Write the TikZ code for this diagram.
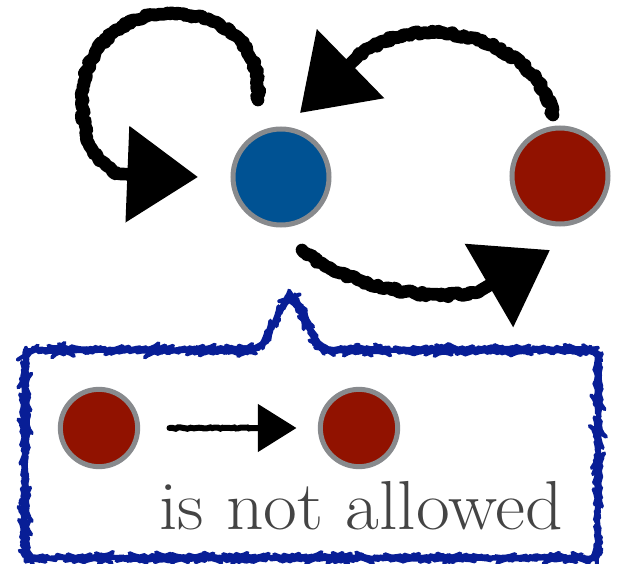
\documentclass[tikz,border=0pt]{standalone}
\usetikzlibrary{arrows.meta,decorations.pathmorphing,positioning}
\definecolor{stateblue}{RGB}{0,82,147}
\definecolor{statered}{RGB}{145,18,0}
\definecolor{rimgray}{RGB}{136,138,141}
\definecolor{boxblue}{RGB}{8,30,150}
\definecolor{textgray}{RGB}{68,68,68}
\begin{document}
\begin{tikzpicture}[x=0.75pt, y=-0.75pt,
    state/.style={circle, draw=rimgray, line width=3.75pt, minimum size=72pt, inner sep=0pt},
    smallstate/.style={state, minimum size=58pt},
    chalk/.style={line width=9.5pt, line cap=round, line join=round, decorate,
        decoration={random steps, segment length=2pt, amplitude=1.4pt, post length=60pt},
        -{Triangle[length=53pt, width=70pt]}},
    smallchalk/.style={line width=4.5pt, line cap=round, decorate,
        decoration={random steps, segment length=2pt, amplitude=0.7pt, post length=34pt},
        -{Triangle[length=29pt, width=35pt]}},
    callout/.style={draw=boxblue, line width=3pt, line join=round, decorate,
        decoration={random steps, segment length=2pt, amplitude=0.7pt}}]
    \useasboundingbox (0,0) rectangle (619,564);

    \node[state, fill=stateblue] at (281,177) (blue){};
    \node[state, fill=statered] at (560,176) (red){};

    % allowed transitions
    \draw[chalk] ([shift={(-23,-77)}]blue.center) .. controls +(4,-60) and +(50,0) .. ([shift={(-111,-163)}]blue.center)
        .. controls +(-60,0) and +(0,-40) .. ([shift={(-199,-77)}]blue.center)
        .. controls +(0,45) and +(-28,-4) .. ([shift={(-151,0)}]blue.center) -- ([shift={(-83,0)}]blue.center);
    \draw[chalk] ([shift={(-7,-61)}]red.center) .. controls +(-18,-80) and +(58,-57) .. ([shift={(71,-115)}]blue.center)
        -- ([shift={(19,-64)}]blue.center);
    \draw[chalk] ([shift={(21,73)}]blue.center) .. controls +(48,40) and +(-35,21) .. ([shift={(-70,110)}]red.center)
        -- ([shift={(-10,74)}]red.center);

    % callout
    \coordinate (pointer) at ([shift={(10,115)}]blue.center);
    \draw[callout, rounded corners=8pt] (25,350) -- ([xshift=-24]pointer |- 0,350) -- (pointer) -- ([xshift=22]pointer |- 0,350)
        -- (598,350) -- (598,558) -- (25,558) -- cycle;
    \node[smallstate, fill=statered] at (99,428) (from){};
    \node[smallstate, fill=statered] at (359,428) (to){};
    \draw[smallchalk] ([xshift=22]from.east) -- ([xshift=-16]to.west);
    \node[anchor=base west, inner sep=0pt, xscale=1.06, text=textgray, font=\fontsize{52}{62}\selectfont] at (159,529) (note){is not allowed};
\end{tikzpicture}
\end{document}
